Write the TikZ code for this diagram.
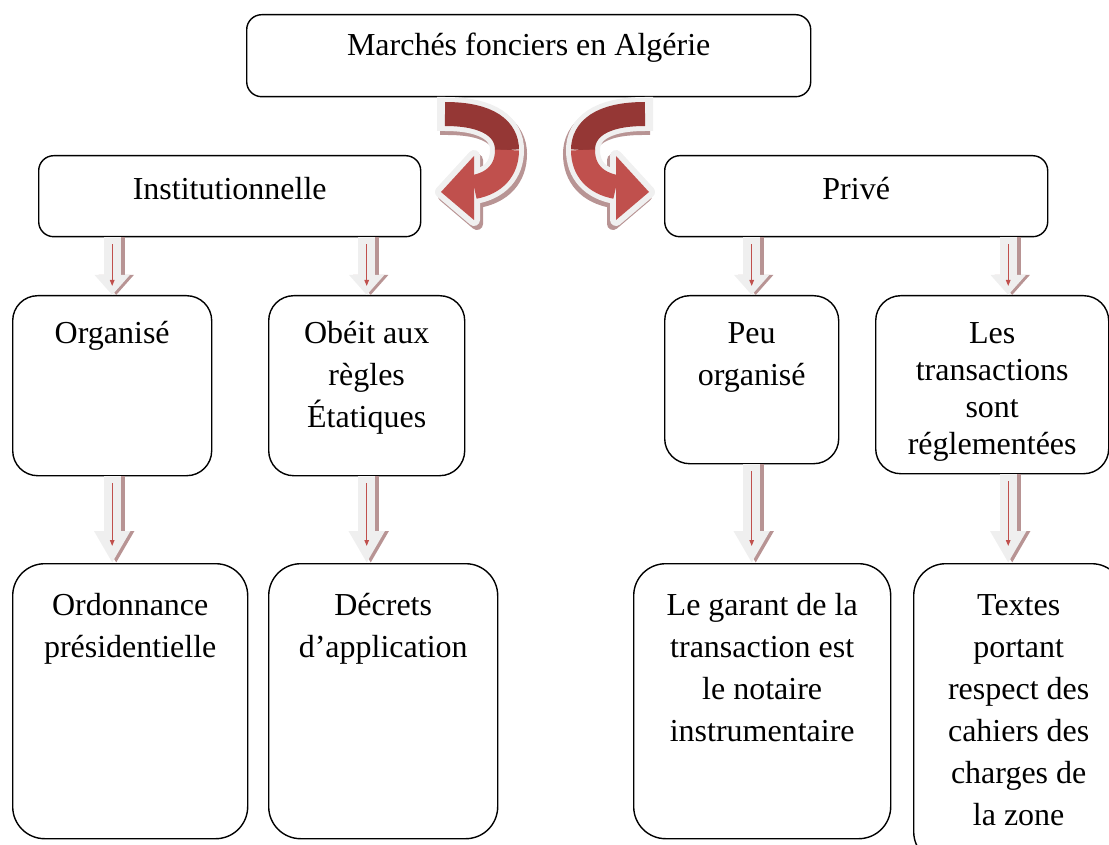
\documentclass[tikz,border=0pt]{standalone}
\usepackage{fontspec}
\setmainfont{Liberation Serif}
\usetikzlibrary{arrows.meta,positioning}
\definecolor{rdark}{HTML}{953735}
\definecolor{rlight}{HTML}{C0504D}
\definecolor{redge}{HTML}{F0F0F0}
\definecolor{rshadow}{HTML}{B89494}
\definecolor{agray}{HTML}{EFEFEF}
\newcommand{\boxtext}[4]{\parbox[c][#2pt][t]{#1pt}{\centering\rule{0pt}{#3pt}#4}}
\tikzset{
  mbox/.style={
    draw=black, line width=1.4pt, rounded corners=#1, inner sep=0pt,
    anchor=north west, font=\fontsize{32}{42}\selectfont},
  dshaft/.style={draw=agray, line width=17pt,
    -{Triangle[width=34pt,length=#1]}},
  dshadow/.style={draw=rshadow, line width=17pt,
    -{Triangle[width=34pt,length=#1]}, transform canvas={xshift=4pt}},
  dred/.style={draw=rlight, line width=1.2pt,
    -{Triangle[width=4.5pt,length=6pt]}, shorten <=7pt, shorten >=#1},
  ribbon/.pic={
    % shadow
    \begin{scope}[shift={(3,4)}]
      \draw[rshadow, line width=34pt] (437,114) -- (445,114)
        .. controls (490,114) and (507,130) .. (507,150)
        .. controls (507,170) and (495,183) .. (474,187);
      \filldraw[rshadow, line width=12pt, line join=round]
        (474,156) -- (441,192) -- (474,220) -- cycle;
    \end{scope}
    % light rim
    \draw[redge, line width=34pt] (437,114) -- (445,114)
      .. controls (490,114) and (507,130) .. (507,150)
      .. controls (507,170) and (495,183) .. (474,187);
    \filldraw[redge, line width=12pt, line join=round]
      (474,156) -- (441,192) -- (474,220) -- cycle;
    % two tones
    \draw[rdark, line width=24pt] (445,114)
      .. controls (490,114) and (507,130) .. (507,150);
    \draw[rlight, line width=24pt] (507,150)
      .. controls (507,170) and (495,183) .. (474,187);
    \fill[rlight] (474,156) -- (441,192) -- (474,220) -- cycle;
  },
}

\begin{document}
\begin{tikzpicture}[x=1pt,y=-1pt]
\useasboundingbox (0,0) rectangle (1109,845);

% first level
\node[mbox=15pt] (top) at (246,14)
  {\boxtext{564}{82}{41}{Marchés fonciers en Algérie}};
\node[mbox=15pt] (inst) at (38,155)
  {\boxtext{382}{81}{44}{Institutionnelle}};
\node[mbox=15pt] (priv) at (664,155)
  {\boxtext{383}{81}{44}{Privé}};

% second level
\node[mbox=25pt] (org) at (12,295)
  {\boxtext{199}{180}{48}{Organisé}};
\node[mbox=25pt] (obeit) at (268,295)
  {\boxtext{196}{180}{48}{Obéit aux\\règles\\Étatiques}};
\node[mbox=25pt] (peu) at (664,295)
  {\boxtext{174}{168}{48}{Peu\\organisé}};
\node[mbox=25pt,font=\fontsize{32}{37}\selectfont] (trans) at (875,295)
  {\boxtext{233}{178}{48}{Les\\transactions\\sont\\réglementées}};

% third level
\node[mbox=32pt] (ord) at (12,563)
  {\boxtext{235}{275}{52}{Ordonnance\\présidentielle}};
\node[mbox=32pt] (dec) at (268,563)
  {\boxtext{229}{275}{52}{Décrets\\d’application}};
\node[mbox=32pt] (gar) at (633,563)
  {\boxtext{257}{275}{52}{Le garant de la\\transaction est\\le notaire\\instrumentaire}};
\node[mbox=32pt] (txt) at (913,563)
  {\boxtext{210}{300}{52}{Textes\\portant\\respect des\\cahiers des\\charges de\\la zone}};

% curved arrows from the title
\pic at (0,0) {ribbon};
\pic[xscale=-1] at (1090,0) {ribbon};

\coordinate (k4) at ([xshift=16pt]trans.north);

% down arrows, first row
\draw[dshadow=20pt] (inst.south -| org.north) -- (org.north);
\draw[dshaft=20pt] (inst.south -| org.north) -- (org.north);
\draw[dred=9pt] (inst.south -| org.north) -- (org.north);
\draw[dshadow=20pt] (inst.south -| obeit.north) -- (obeit.north);
\draw[dshaft=20pt] (inst.south -| obeit.north) -- (obeit.north);
\draw[dred=9pt] (inst.south -| obeit.north) -- (obeit.north);
\draw[dshadow=20pt] (priv.south -| peu.north) -- (peu.north);
\draw[dshaft=20pt] (priv.south -| peu.north) -- (peu.north);
\draw[dred=9pt] (priv.south -| peu.north) -- (peu.north);
\draw[dshadow=20pt] (priv.south -| k4) -- (k4);
\draw[dshaft=20pt] (priv.south -| k4) -- (k4);
\draw[dred=9pt] (priv.south -| k4) -- (k4);

% down arrows, second row
\draw[dshadow=32pt] (org.south) -- (org.south |- ord.north);
\draw[dshaft=32pt] (org.south) -- (org.south |- ord.north);
\draw[dred=17pt] (org.south) -- (org.south |- ord.north);
\draw[dshadow=32pt] (obeit.south) -- (obeit.south |- dec.north);
\draw[dshaft=32pt] (obeit.south) -- (obeit.south |- dec.north);
\draw[dred=17pt] (obeit.south) -- (obeit.south |- dec.north);
\draw[dshadow=32pt] (peu.south) -- (peu.south |- gar.north);
\draw[dshaft=32pt] (peu.south) -- (peu.south |- gar.north);
\draw[dred=17pt] (peu.south) -- (peu.south |- gar.north);
\draw[dshadow=32pt] (k4 |- trans.south) -- (k4 |- txt.north);
\draw[dshaft=32pt] (k4 |- trans.south) -- (k4 |- txt.north);
\draw[dred=17pt] (k4 |- trans.south) -- (k4 |- txt.north);

\end{tikzpicture}
\end{document}
